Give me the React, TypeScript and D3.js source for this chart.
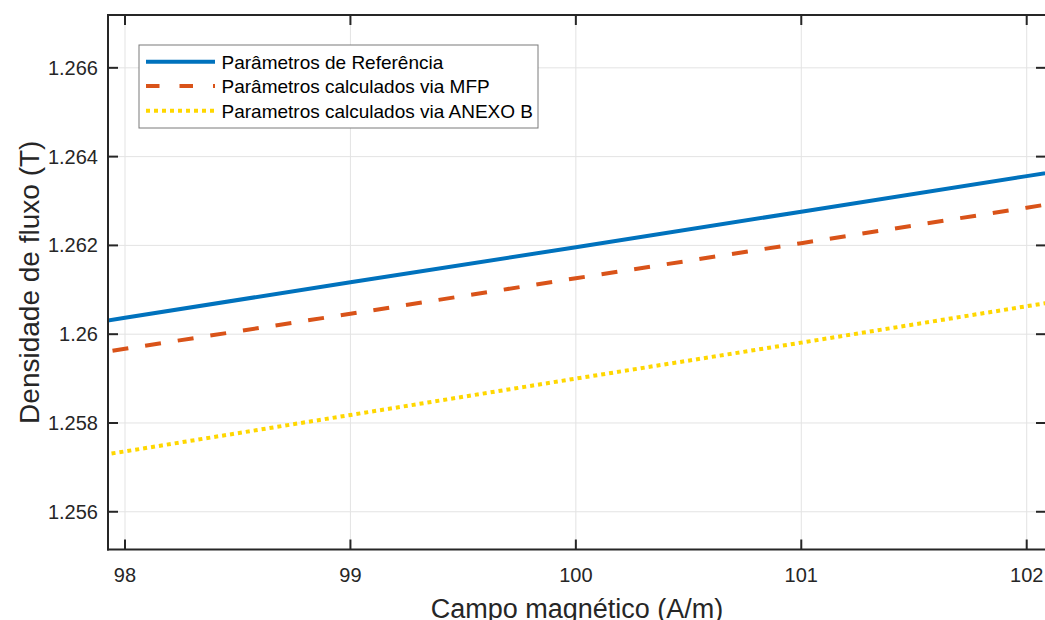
import React from "react";
import * as d3 from "d3";

const xValues = [97.8, 98, 99, 100, 101, 102, 102.2];
const seriesReferencia = [1.26021, 1.26037, 1.26117, 1.26196, 1.26276, 1.26356, 1.26372];
const seriesMFP = [1.25951, 1.25967, 1.26046, 1.26126, 1.26205, 1.26285, 1.26301];
const seriesAnexoB = [1.2572, 1.25736, 1.25818, 1.259, 1.25981, 1.26063, 1.26079];
const seriesNames = [
  "Parâmetros de Referência",
  "Parâmetros calculados via MFP",
  "Parametros calculados via ANEXO B",
];
const xTicks = [98, 99, 100, 101, 102];
const yTicks = [1.256, 1.258, 1.26, 1.262, 1.264, 1.266];
const xLabel = "Campo magnético (A/m)";
const yLabel = "Densidade de fluxo (T)";

const W = 1045;
const H = 620;
const L = 108;
const R = 1046;
const T = 15;
const B = 549.5;
const FONT = "'Liberation Sans', Arial, Helvetica, sans-serif";
const TXT = "#262626";

export default function App() {
  const x = d3.scaleLinear().domain([97.9246, 102.0856]).range([L, R]);
  const y = d3.scaleLinear().domain([1.25515, 1.26719]).range([B, T]);

  const series = [
    { name: seriesNames[0], values: seriesReferencia, color: "#0072BD", dash: "none", legDash: undefined, width: 4 },
    { name: seriesNames[1], values: seriesMFP, color: "#D95319", dash: "16,17", legDash: "13.5,20", width: 4 },
    { name: seriesNames[2], values: seriesAnexoB, color: "#FFD700", dash: "4,4", legDash: "4,4", width: 4 },
  ];

  const line = (vals: number[]) =>
    d3
      .line<number>()
      .x((_, i) => x(xValues[i]))
      .y((d) => y(d))(vals) || "";

  const legendX = 139;
  const legendY = 45;
  const legendW = 399;
  const legendH = 83;
  const rowY = [61.7, 85.9, 110.7];

  return (
    <svg
      width={W}
      height={H}
      style={{ position: "absolute", left: 0, top: 0, background: "#fff" }}
      fontFamily={FONT}
    >
      <defs>
        <clipPath id="plotclip">
          <rect x={L} y={T} width={R - L} height={B - T} />
        </clipPath>
      </defs>
      <rect x={L} y={T} width={R - L} height={B - T} fill="#fff" />
      {xTicks.map((t) => (
        <line key={"gx" + t} x1={x(t)} x2={x(t)} y1={T} y2={B} stroke="#e3e3e3" strokeWidth={1} />
      ))}
      {yTicks.map((t) => (
        <line key={"gy" + t} x1={L} x2={R} y1={y(t)} y2={y(t)} stroke="#e3e3e3" strokeWidth={1} />
      ))}
      <g clipPath="url(#plotclip)">
        {series.map((s) => (
          <path
            key={s.name}
            d={line(s.values)}
            fill="none"
            stroke={s.color}
            strokeWidth={s.width}
            strokeDasharray={s.dash}
          />
        ))}
      </g>
      <g stroke={TXT} strokeWidth={2} fill="none">
        <line x1={L} x2={L} y1={T - 1} y2={B + 1} />
        <line x1={L - 1} x2={R} y1={B} y2={B} />
        <line x1={L - 1} x2={R} y1={T} y2={T} />
        <line x1={R} x2={R} y1={T} y2={B} />
        {xTicks.map((t) => (
          <g key={"tx" + t}>
            <line x1={x(t)} x2={x(t)} y1={B} y2={B - 10} />
            <line x1={x(t)} x2={x(t)} y1={T} y2={T + 10} />
          </g>
        ))}
        {yTicks.map((t) => (
          <g key={"ty" + t}>
            <line x1={L} x2={L + 10} y1={y(t)} y2={y(t)} />
            <line x1={R} x2={R - 10} y1={y(t)} y2={y(t)} />
          </g>
        ))}
      </g>
      {xTicks.map((t) => (
        <text key={"lx" + t} x={x(t)} y={582} textAnchor="middle" fontSize={20} fill={TXT}>
          {String(t)}
        </text>
      ))}
      {yTicks.map((t) => (
        <text
          key={"ly" + t}
          x={98}
          y={y(t)}
          dy="0.35em"
          textAnchor="end"
          fontSize={20}
          fill={TXT}
        >
          {String(+t.toFixed(3))}
        </text>
      ))}
      <text x={(L + R) / 2} y={618} textAnchor="middle" fontSize={27} fill={TXT}>
        {xLabel}
      </text>
      <text
        transform={`translate(39, ${(T + B) / 2}) rotate(-90)`}
        textAnchor="middle"
        fontSize={28}
        fill={TXT}
      >
        {yLabel}
      </text>
      <rect
        x={legendX}
        y={legendY}
        width={legendW}
        height={legendH}
        fill="#fff"
        stroke="#7a7a7a"
        strokeWidth={1}
      />
      {series.map((s, i) => (
        <g key={"lg" + i}>
          <line
            x1={146}
            x2={215}
            y1={rowY[i]}
            y2={rowY[i]}
            stroke={s.color}
            strokeWidth={s.width}
            strokeDasharray={s.legDash}
          />
          <text x={221.5} y={rowY[i]} dy="0.36em" fontSize={19} fill="#000">
            {s.name}
          </text>
        </g>
      ))}
    </svg>
  );
}
